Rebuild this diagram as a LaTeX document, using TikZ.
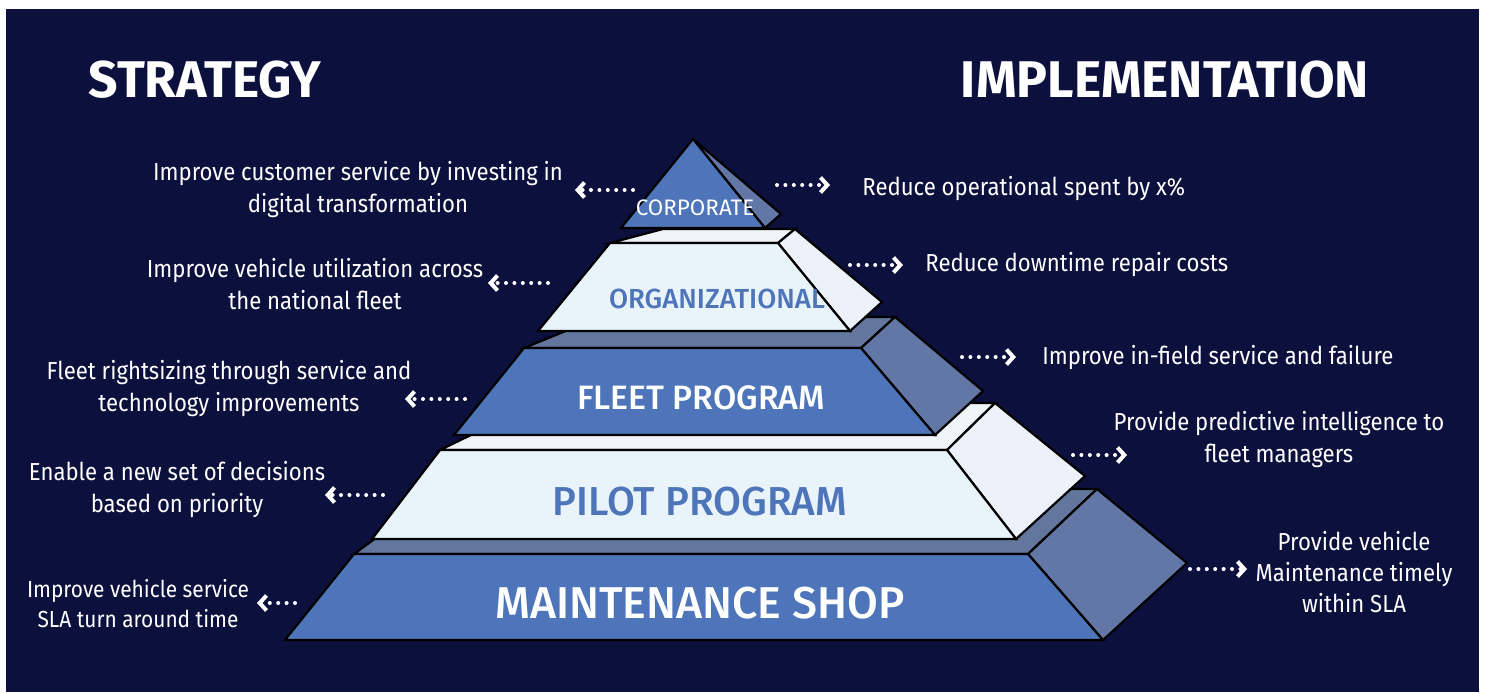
\documentclass[tikz,border=0pt]{standalone}
\usepackage{fontspec}
\setmainfont{Fira Sans}[FakeStretch=0.9]
\newfontfamily\medf{Fira Sans Medium}
\newfontfamily\hdrf{Fira Sans Bold}
\usetikzlibrary{arrows.meta}
\definecolor{navy}{HTML}{0C103D}
\definecolor{blue}{HTML}{4E75B9}
\definecolor{slate}{HTML}{6277A6}
\definecolor{topgray}{HTML}{63779E}
\definecolor{pale}{HTML}{E9F3FA}
\definecolor{paleside}{HTML}{EBF2F9}
\definecolor{paletop}{HTML}{EFF4F8}
\tikzset{
  face/.style={draw=black, line width=1.1pt},
  hdr/.style={text=white, anchor=base, font=\hdrf\fontsize{25.8}{30}\selectfont},
  txt/.style={text=white, align=center, font=\fontsize{12.3}{16}\selectfont},
  lyr/.style={anchor=base, inner sep=0pt},
  arr/.style={draw=white, line width=2pt, line cap=round,
    dash pattern=on 0pt off 4.2pt, -{Straight Barb[length=3.4pt,width=7.5pt]}}
}

\begin{document}
\begin{tikzpicture}[x=0.5pt, y=-0.5pt]
\useasboundingbox (0,0) rectangle (1486,692);
\fill[white] (0,0) rectangle (1486,692);
\fill[navy] (6,9) rectangle (1479,692);

\filldraw[face, fill=topgray] (354,554) -- (443,489) -- (1097,489) -- (1028,554) -- cycle;
\filldraw[face, fill=slate] (1028,554) -- (1097,489) -- (1187,563) -- (1103,640) -- cycle;
\filldraw[face, fill=blue] (285,640) -- (354,554) -- (1028,554) -- (1103,640) -- cycle;

\filldraw[face, fill=paletop] (440,450) -- (537,403) -- (995,403) -- (947,450) -- cycle;
\filldraw[face, fill=paleside] (947,450) -- (995,403) -- (1085,476) -- (1016,539) -- cycle;
\filldraw[face, fill=pale] (372,539) -- (440,450) -- (947,450) -- (1016,539) -- cycle;

\filldraw[face, fill=topgray] (524,348) -- (600,317) -- (895,317) -- (861,348) -- cycle;
\filldraw[face, fill=slate] (861,348) -- (895,317) -- (983,391) -- (935,435) -- cycle;
\filldraw[face, fill=blue] (454,435) -- (524,348) -- (861,348) -- (935,435) -- cycle;

\filldraw[face, fill=paletop] (610,243) -- (663,229) -- (795,229) -- (778,243) -- cycle;
\filldraw[face, fill=paleside] (778,243) -- (795,229) -- (882,302) -- (850,331) -- cycle;
\filldraw[face, fill=pale] (538,331) -- (610,243) -- (778,243) -- (850,331) -- cycle;

\filldraw[face, fill=slate] (693,139) -- (781,214) -- (765,228) -- cycle;
\filldraw[face, fill=blue] (621,228) -- (693,139) -- (765,228) -- cycle;

\node[lyr, text=white, font=\fontsize{11.2}{13}\selectfont\addfontfeature{FakeStretch=1.0}] (corp) at (695,215) {CORPORATE};
\node[lyr, text=blue, font=\medf\fontsize{13.8}{17}\selectfont] (org) at (717,308) {ORGANIZATIONAL};
\node[lyr, text=white, font=\medf\fontsize{16.9}{20}\selectfont] (fleet) at (701,409) {FLEET PROGRAM};
\node[lyr, text=blue, font=\medf\fontsize{20.2}{24}\selectfont] (pilot) at (700,515) {PILOT PROGRAM};
\node[lyr, text=white, font=\medf\fontsize{22.3}{26}\selectfont] (maint) at (700,618) {MAINTENANCE SHOP};

\node[hdr] (strat) at (205,97) {STRATEGY};
\node[hdr] (impl) at (1165,97) {IMPLEMENTATION};

\node[txt] (s1) at (358,190) {Improve customer service by investing in\\digital transformation};
\node[txt] (s2) at (315,284) {Improve vehicle utilization across\\the national fleet};
\node[txt] (s3) at (229,389) {Fleet rightsizing through service and\\technology improvements};
\node[txt] (s4) at (177,490) {Enable a new set of decisions\\based on priority};
\node[txt, font=\fontsize{11.6}{15}\selectfont] (s5) at (138,604) {Improve vehicle service\\SLA turn around time};

\node[txt, anchor=west, inner sep=0pt] (i1) at (862,189) {Reduce operational spent by x\%};
\node[txt, anchor=west, inner sep=0pt] (i2) at (925,265) {Reduce downtime repair costs};
\node[txt, anchor=west, inner sep=0pt] (i3) at (1042,358) {Improve in-field service and failure};
\node[txt] (i4) at (1279,440) {Provide predictive intelligence to\\fleet managers};
\node[txt, font=\fontsize{12.3}{15.5}\selectfont] (i5) at (1354,572) {Provide vehicle\\Maintenance timely\\within SLA};

\coordinate (s1a) at (633,190); \coordinate (s1b) at (575,190);
\coordinate (s2a) at (548,283); \coordinate (s2b) at (488,283);
\coordinate (s3a) at (465,399); \coordinate (s3b) at (405,399);
\coordinate (s4a) at (383,495); \coordinate (s4b) at (325,495);
\coordinate (s5a) at (295,603); \coordinate (s5b) at (257,603);
\coordinate (i1a) at (777,185); \coordinate (i1b) at (830,185);
\coordinate (i2a) at (850,265); \coordinate (i2b) at (903,265);
\coordinate (i3a) at (962,357); \coordinate (i3b) at (1016,357);
\coordinate (i4a) at (1073,455); \coordinate (i4b) at (1127,455);
\coordinate (i5a) at (1190,569); \coordinate (i5b) at (1247,569);

\foreach \k in {s1,s2,s3,s4,s5,i1,i2,i3,i4,i5}
  \draw[arr] (\k a) -- (\k b);
\end{tikzpicture}
\end{document}
